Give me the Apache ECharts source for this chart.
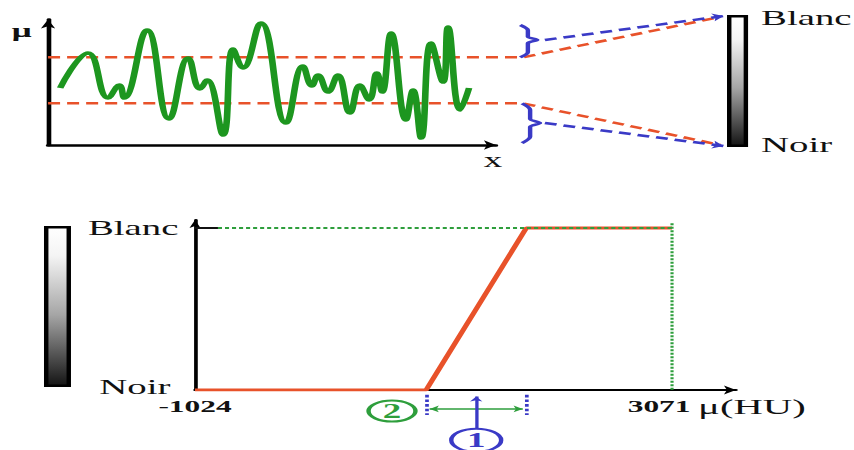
<!DOCTYPE html>
<html>
<head>
<meta charset="utf-8">
<script src="https://cdn.jsdelivr.net/npm/echarts@6/dist/echarts.min.js"></script>
<style>
  html, body { margin: 0; padding: 0; background: #fff; overflow: hidden; }
  #wrap { width: 854px; height: 450px; overflow: hidden; }
  /* the figure is laid out narrow and stretched horizontally */
  #chart { width: 462px; height: 450px; transform: scaleX(1.848485); transform-origin: 0 0; }
</style>
</head>
<body>
<div id="wrap"><div id="chart"></div></div>
<script>
// ---- signal profile μ(x) ----
const waveX = [2.7, 8.9, 13.4, 15.9, 17.0, 22.1, 27.0, 31.3, 33.9, 35.5, 39.1, 41.3, 43.5, 47.5,
               53.1, 56.9, 58.9, 60.3, 62.5, 64.7, 67.4, 69.6, 71.7, 73.4, 74.6, 76.6, 79.9, 81.5,
               83.3, 85.5, 88.2, 89.3, 92.0, 94.0];
const waveY = [46.0, 74.2, 37.9, 48.4, 37.9, 92.7, 21.0, 70.2, 45.2, 52.4, 8.1, 77.4, 62.1, 98.4,
               17.7, 63.7, 47.6, 56.5, 42.7, 56.5, 25.8, 48.4, 36.3, 58.1, 42.7, 90.3, 20.2, 44.4,
               5.6, 82.3, 50.8, 95.2, 28.2, 46.0];
// window bounds on the signal
const windowLevels = [70.7, 33.6];

// ---- window function (HU -> grey level) ----
const huTicks = [-1024, 3071];
const huTickLabels = ['-1024', '3071'];
const greyTicks = [0, 1];
const greyTickLabels = ['Noir', 'Blanc'];
const rampStart = 960;
const rampEnd = 1820;
const rampCenter = (rampStart + rampEnd) / 2;

// ---- layout (unstretched px) ----
const SERIF = '"Liberation Serif", "Times New Roman", serif';
const G_SIG = { left: 26, top: 19.5, width: 242.3, height: 125.5 };
const G_MAP = { left: 26, top: 19.5, width: 368.4, height: 125.5 };
const G_BAR_R = { left: 393.3, top: 15, width: 11.4, height: 132 };
const G_BAR_L = { left: 23.8, top: 226, width: 14.6, height: 161 };
const G_HU = { left: 105.5, top: 219.9, width: 292.65, height: 170.1 };
const SIG_X_MAX = 100, SIG_Y_MAX = 101.2, MAP_X_MAX = 152;
const HU_MAX = 3620, GREY_MAX = 1.05;

const RED = '#e8522a', GREEN = '#1d961f', BLUE = '#3a3ac6', DOTGREEN = '#2e9e3c';

// pixel -> overlay data units (shares the signal's vertical scale)
const mapX = px => (px - G_MAP.left) / G_MAP.width * MAP_X_MAX;
const mapY = py => (G_MAP.top + G_MAP.height - py) / G_MAP.height * SIG_Y_MAX;
const barTop = [mapX(G_BAR_R.left - 1.8), mapY(G_BAR_R.top + 1)];
const barBot = [mapX(G_BAR_R.left - 1.8), mapY(G_BAR_R.top + G_BAR_R.height - 1)];
const barTopRed = [barTop[0] - 0.8, barTop[1] - 0.8];
const barBotRed = [barBot[0] - 0.8, barBot[1] + 0.8];

const bendX = 106.0;      // where the window bounds leave the signal panel
const arrowStartX = 110.9;

function brace(xCurl, xBase, xTip, yTop, yBot, yTip) {
  const h = yTop - yBot;
  return [[xCurl, yTop], [xBase, yTop - 0.16 * h], [xBase, yTip + 0.1 * h], [xTip, yTip],
          [xBase, yTip - 0.1 * h], [xBase, yBot + 0.16 * h], [xCurl, yBot]];
}

function greyGradient() {
  return new echarts.graphic.LinearGradient(0, 0, 0, 1, [
    { offset: 0, color: '#ffffff' },
    { offset: 0.18, color: '#f4f4f4' },
    { offset: 0.55, color: '#a6a6a6' },
    { offset: 1, color: '#141414' }
  ]);
}

function bare(extra) {
  return Object.assign({
    axisLine: { show: false }, axisTick: { show: false },
    axisLabel: { show: false }, splitLine: { show: false }
  }, extra);
}

const ellipsePath = 'path://M0,1A1,1 0 1,1 2,1A1,1 0 1,1 0,1Z';

const chart = echarts.init(document.getElementById('chart'), null, { renderer: 'svg' });

const option = {
  animation: false,
  backgroundColor: '#fff',
  grid: [G_SIG, G_MAP, G_BAR_R, G_BAR_L, G_HU].map(g => Object.assign({ containLabel: false, outerBoundsMode: 'none' }, g)),
  xAxis: [
    {
      type: 'value', gridIndex: 0, min: 0, max: SIG_X_MAX,
      axisLine: { show: true, onZero: false, symbol: ['none', 'arrow'], symbolSize: [7, 6.5], lineStyle: { color: '#000', width: 2.5 } },
      axisTick: { show: false }, axisLabel: { show: false }, splitLine: { show: false },
      name: '{n|x}', nameLocation: 'end', nameGap: -6.6, nameMoveOverlap: false,
      nameTextStyle: {
        verticalAlign: 'middle',
        rich: { n: { fontFamily: SERIF, fontSize: 20, color: '#111', padding: [30, 0, 0, 0] } }
      }
    },
    bare({ type: 'value', gridIndex: 1, min: 0, max: MAP_X_MAX }),
    bare({ type: 'category', gridIndex: 2, data: ['g'] }),
    bare({ type: 'category', gridIndex: 3, data: ['g'] }),
    {
      type: 'value', gridIndex: 4, min: huTicks[0], max: HU_MAX,
      axisLine: { show: true, onZero: false, symbol: ['none', 'arrow'], symbolSize: [6.7, 6.5], lineStyle: { color: '#000', width: 2 } },
      axisTick: { show: false }, splitLine: { show: false },
      axisLabel: {
        customValues: huTicks, margin: 7, color: '#111',
        fontFamily: SERIF, fontWeight: 'bold', fontSize: 17,
        formatter: v => v === huTicks[1] ? '{r|' + huTickLabels[1] + '}' : '{l|' + huTickLabels[0] + '}',
        rich: {
          l: { fontFamily: SERIF, fontWeight: 'bold', fontSize: 17, color: '#111' },
          r: { fontFamily: SERIF, fontWeight: 'bold', fontSize: 17, color: '#111', padding: [0, 14, 0, 0] }
        }
      },
      name: '{n|μ(HU)}', nameLocation: 'end', nameGap: -20.5, nameMoveOverlap: false,
      nameTextStyle: {
        verticalAlign: 'middle',
        rich: { n: { fontFamily: SERIF, fontSize: 22, color: '#111', padding: [34, 0, 0, 0] } }
      }
    }
  ],
  yAxis: [
    {
      type: 'value', gridIndex: 0, min: 0, max: SIG_Y_MAX,
      axisLine: { show: true, onZero: false, symbol: ['none', 'arrow'], symbolSize: [5.8, 9], lineStyle: { color: '#000', width: 2.5 } },
      axisTick: { show: false }, axisLabel: { show: false }, splitLine: { show: false },
      name: 'μ', nameLocation: 'end', nameGap: -11.5, nameMoveOverlap: false,
      nameTextStyle: { fontFamily: SERIF, fontWeight: 'bold', fontSize: 19, color: '#111', align: 'right', verticalAlign: 'middle', padding: [0, 8.9, 0, 0] }
    },
    bare({ type: 'value', gridIndex: 1, min: 0, max: SIG_Y_MAX }),
    {
      type: 'value', gridIndex: 2, min: 0, max: 1, position: 'right',
      axisLine: { show: false }, axisTick: { show: false }, splitLine: { show: false },
      axisLabel: {
        customValues: greyTicks, margin: 7,
        formatter: v => v === 1 ? '{t|' + greyTickLabels[1] + '}' : '{b|' + greyTickLabels[0] + '}',
        rich: {
          t: { fontFamily: SERIF, fontSize: 21, color: '#111', padding: [6, 0, 0, 0] },
          b: { fontFamily: SERIF, fontSize: 21, color: '#111', padding: [0, 0, 4, 0] }
        }
      }
    },
    bare({ type: 'value', gridIndex: 3, min: 0, max: 1 }),
    {
      type: 'value', gridIndex: 4, min: 0, max: GREY_MAX,
      axisLine: { show: true, onZero: false, symbol: ['none', 'arrow'], symbolSize: [4.5, 8], lineStyle: { color: '#000', width: 2 } },
      axisTick: { show: false }, splitLine: { show: false },
      axisLabel: {
        customValues: greyTicks, margin: 9,
        formatter: v => v === 1 ? '{t|' + greyTickLabels[1] + '}' : '{b|' + greyTickLabels[0] + '}',
        rich: {
          t: { fontFamily: SERIF, fontSize: 21, color: '#111' },
          b: { fontFamily: SERIF, fontSize: 21, color: '#111', padding: [0, 4.3, 6, 0] }
        }
      }
    }
  ],
  series: [
    // window bounds carried over to the grey scale
    ...windowLevels.map((lvl, i) => ({
      type: 'line', xAxisIndex: 1, yAxisIndex: 1, clip: false, silent: true, symbol: 'none', z: 2,
      lineStyle: { color: RED, width: 2.5, type: [6.5, 3.8] },
      data: [[0, lvl], [bendX, lvl], i === 0 ? barTopRed : barBotRed]
    })),
    // signal
    {
      type: 'line', xAxisIndex: 0, yAxisIndex: 0, smooth: 0.45, symbol: 'none', z: 3, silent: true,
      lineStyle: { color: GREEN, width: 3.6 },
      data: waveX.map((x, i) => [x, waveY[i]])
    },
    // braces over the values above / below the window
    {
      type: 'line', xAxisIndex: 1, yAxisIndex: 1, clip: false, smooth: 0.3, symbol: 'none', silent: true,
      lineStyle: { color: BLUE, width: 2.4 },
      data: brace(105.4, 107.1, 109.2, 96.8, windowLevels[0], 84.7)
    },
    {
      type: 'line', xAxisIndex: 1, yAxisIndex: 1, clip: false, smooth: 0.3, symbol: 'none', silent: true,
      lineStyle: { color: BLUE, width: 2.4 },
      data: brace(105.8, 107.6, 109.8, windowLevels[1], 1.6, 17.7)
    },
    {
      type: 'lines', coordinateSystem: 'cartesian2d', xAxisIndex: 1, yAxisIndex: 1, clip: false, silent: true, z: 4,
      symbol: ['none', 'arrow'], symbolSize: 6,
      lineStyle: { color: BLUE, width: 2.5, type: [6.5, 3.8], opacity: 1 },
      data: [
        { coords: [[arrowStartX, 84.7], barTop] },
        { coords: [[arrowStartX, 17.7], barBot] }
      ]
    },
    // grey scales
    {
      type: 'bar', xAxisIndex: 2, yAxisIndex: 2, barWidth: '100%', silent: true,
      itemStyle: { color: greyGradient(), borderColor: '#000', borderWidth: 2.4 },
      data: [1]
    },
    {
      type: 'bar', xAxisIndex: 3, yAxisIndex: 3, barWidth: '100%', silent: true,
      itemStyle: { color: greyGradient(), borderColor: '#000', borderWidth: 2.4 },
      data: [1]
    },
    // window function
    {
      type: 'line', xAxisIndex: 4, yAxisIndex: 4, symbol: 'none', z: 3, silent: true,
      lineStyle: { color: RED, width: 3 },
      data: [[huTicks[0], 0], [rampStart, 0], [rampEnd, 1], [huTicks[1], 1]]
    },
    {
      type: 'line', xAxisIndex: 4, yAxisIndex: 4, symbol: 'none', z: 3, silent: true,
      lineStyle: { color: '#111', width: 2 },
      data: [[huTicks[0], 1], [-827, 1]]
    },
    {
      type: 'line', xAxisIndex: 4, yAxisIndex: 4, symbol: 'none', z: 4, silent: true,
      lineStyle: { color: DOTGREEN, width: 2, type: [2.2, 1.6] },
      data: [[-827, 1], [huTicks[1], 1]]
    },
    {
      type: 'line', xAxisIndex: 4, yAxisIndex: 4, symbol: 'none', z: 4, silent: true,
      lineStyle: { color: DOTGREEN, width: 1.7, type: [2, 1.5] },
      data: [[huTicks[1], 1.03], [huTicks[1], 0]]
    },
    // window edges
    {
      type: 'lines', coordinateSystem: 'cartesian2d', xAxisIndex: 4, yAxisIndex: 4, clip: false, silent: true,
      symbol: 'none',
      lineStyle: { color: BLUE, width: 2, type: [2.6, 2], opacity: 1 },
      data: [
        { coords: [[rampStart, -0.03], [rampStart, -0.155]] },
        { coords: [[rampEnd, -0.03], [rampEnd, -0.155]] }
      ]
    },
    // width (2)
    {
      type: 'lines', coordinateSystem: 'cartesian2d', xAxisIndex: 4, yAxisIndex: 4, clip: false, silent: true,
      symbol: ['arrow', 'arrow'], symbolSize: 5,
      lineStyle: { color: DOTGREEN, width: 1.5, opacity: 1 },
      data: [{ coords: [[rampStart + 30, -0.117], [rampEnd - 30, -0.117]] }]
    },
    // level (1)
    {
      type: 'lines', coordinateSystem: 'cartesian2d', xAxisIndex: 4, yAxisIndex: 4, clip: false, silent: true,
      symbol: ['none', 'arrow'], symbolSize: 5,
      lineStyle: { color: BLUE, width: 1.8, opacity: 1 },
      data: [{ coords: [[rampCenter, -0.24], [rampCenter, -0.04]] }]
    },
    {
      type: 'scatter', xAxisIndex: 4, yAxisIndex: 4, clip: false, silent: true, z: 5,
      symbol: ellipsePath, symbolSize: [27, 23],
      itemStyle: { color: '#fff', borderColor: BLUE, borderWidth: 2.2, opacity: 1 },
      label: { show: true, position: 'inside', formatter: '1', fontFamily: SERIF, fontWeight: 'bold', fontSize: 20, color: BLUE },
      data: [[rampCenter, -0.31]]
    },
    {
      type: 'scatter', xAxisIndex: 4, yAxisIndex: 4, clip: false, silent: true, z: 5,
      symbol: ellipsePath, symbolSize: [25.4, 21],
      itemStyle: { color: '#fff', borderColor: DOTGREEN, borderWidth: 2.2, opacity: 1 },
      label: { show: true, position: 'inside', formatter: '2', fontFamily: SERIF, fontWeight: 'bold', fontSize: 20, color: DOTGREEN },
      data: [[667, -0.13]]
    }
  ]
};

chart.setOption(option);
</script>
</body>
</html>
